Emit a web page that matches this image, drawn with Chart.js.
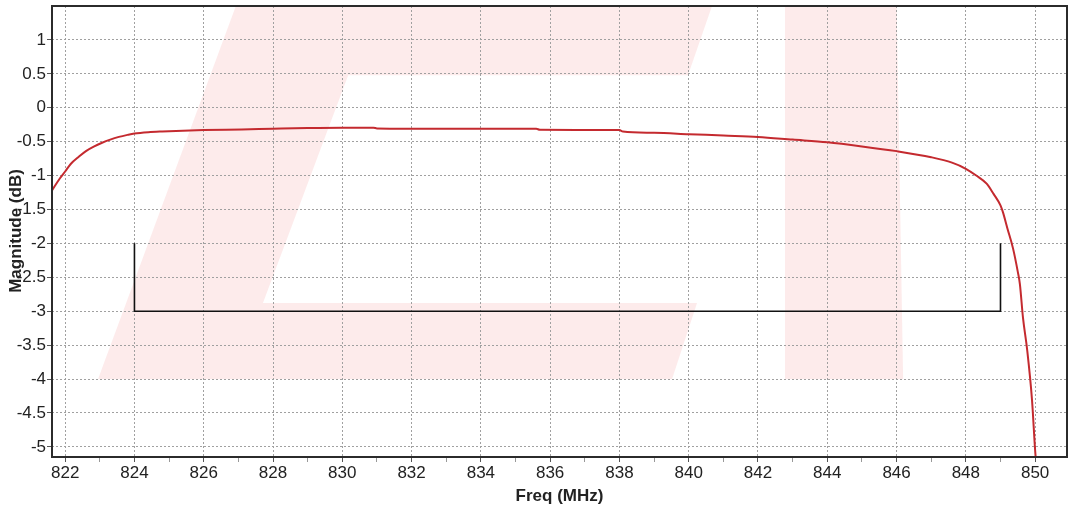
<!DOCTYPE html>
<html>
<head>
<meta charset="utf-8">
<script src="https://cdn.jsdelivr.net/npm/chart.js@4/dist/chart.umd.min.js"></script>
<style>
    body { margin: 0; background: #fff; }
    canvas { display: block; }
</style>
</head>
<body>
<canvas id="magChart" width="1069" height="508"></canvas>
<script>
// Đáp ứng biên độ của bộ lọc
const freqMHz = [821.62, 821.85, 822.0, 822.16, 822.4, 822.6, 822.84, 823.05, 823.3, 823.55, 823.8, 824.0,
    824.4, 824.8, 825.4, 826.0, 827.1, 828.0, 829.0, 830.0, 830.9, 831.0, 833.0, 835.6, 835.7, 838.0,
    838.1, 839.0, 840.0, 841.0, 842.0, 843.0, 844.0, 845.0, 846.0, 847.0, 847.6, 848.0, 848.3, 848.6,
    848.8, 849.0, 849.07, 849.2, 849.36, 849.5, 849.56, 849.65, 849.77, 849.91, 850.0, 850.04];
const magnitudeDb = [-1.22, -1.04, -0.94, -0.83, -0.72, -0.64, -0.57, -0.52, -0.47, -0.43, -0.40, -0.38,
    -0.36, -0.35, -0.34, -0.33, -0.32, -0.31, -0.30, -0.295, -0.295, -0.305, -0.31, -0.31, -0.325, -0.33,
    -0.35, -0.37, -0.39, -0.41, -0.43, -0.47, -0.51, -0.57, -0.64, -0.73, -0.81, -0.90, -1.00, -1.12,
    -1.27, -1.44, -1.54, -1.78, -2.07, -2.42, -2.60, -3.10, -3.57, -4.31, -5.05, -5.30];

// Mặt nạ (mask) -3 dB
const maskFreq = [824, 824, 849, 849];
const maskDb = [-2, -3, -3, -2];

// Nhãn trục
const xTicks = [822, 824, 826, 828, 830, 832, 834, 836, 838, 840, 842, 844, 846, 848, 850];
const xMinorTicks = [823, 825, 827, 829, 831, 833, 835, 837, 839, 841, 843, 845, 847, 849];
const yTicks = [-5, -4.5, -4, -3.5, -3, -2.5, -2, -1.5, -1, -0.5, 0, 0.5, 1];

// Logo mờ phía sau (toạ độ theo đơn vị dữ liệu)
const logoShapes = [
    [[822.95, -4.0], [827.0, 1.6], [840.74, 1.6], [839.98, 0.48], [830.17, 0.48], [827.71, -2.88], [840.24, -2.88], [839.52, -4.0]],
    [[842.78, 1.6], [846.0, 1.6], [846.19, -4.0], [842.78, -4.0]]
];

const FONT = "'Liberation Sans', Arial, sans-serif";

const backgroundPlugin = {
    id: 'backgroundLogo',
    beforeDraw(chart) {
        const ctx = chart.ctx;
        const area = chart.chartArea;
        const sx = chart.scales.x, sy = chart.scales.y;
        ctx.save();
        ctx.fillStyle = '#fff';
        ctx.fillRect(0, 0, chart.width, chart.height);
        ctx.beginPath();
        ctx.rect(area.left, area.top, area.right - area.left, area.bottom - area.top);
        ctx.clip();
        ctx.fillStyle = 'rgba(236, 70, 70, 0.11)';
        logoShapes.forEach(function(shape) {
            ctx.beginPath();
            shape.forEach(function(p, i) {
                const px = sx.getPixelForValue(p[0]);
                const py = sy.getPixelForValue(p[1]);
                i === 0 ? ctx.moveTo(px, py) : ctx.lineTo(px, py);
            });
            ctx.closePath();
            ctx.fill();
        });
        ctx.restore();
    }
};

const framePlugin = {
    id: 'frameTitles',
    afterDraw(chart) {
        const ctx = chart.ctx;
        const a = chart.chartArea;
        ctx.save();
        ctx.strokeStyle = '#2b2b2b';
        ctx.lineWidth = 2;
        ctx.strokeRect(a.left, a.top, a.right - a.left, a.bottom - a.top);

        ctx.fillStyle = '#222';
        ctx.font = 'bold 17px ' + FONT;
        ctx.textAlign = 'center';
        ctx.textBaseline = 'middle';
        ctx.fillText('Freq (MHz)', (a.left + a.right) / 2, 496);

        ctx.translate(16, 231);
        ctx.rotate(-Math.PI / 2);
        ctx.fillText('Magnitude (dB)', 0, 0);
        ctx.restore();
    }
};

const data = {
    datasets: [{
            label: 'Magnitude',
            data: freqMHz.map(function(f, i) { return {x: f, y: magnitudeDb[i]}; }),
            borderColor: '#c42a2f',
            borderWidth: 2,
            pointRadius: 0,
            cubicInterpolationMode: 'monotone'
        }, {
            label: 'Mask',
            data: maskFreq.map(function(f, i) { return {x: f, y: maskDb[i]}; }),
            borderColor: '#111',
            borderWidth: 1.6,
            pointRadius: 0,
            tension: 0
        }]
};

const config = {
    type: 'line',
    data: data,
    options: {
        responsive: false,
        animation: false,
        devicePixelRatio: 1,
        layout: { padding: { top: 6, right: 2, left: 0, bottom: 0 } },
        plugins: { legend: { display: false }, tooltip: { enabled: false } },
        scales: {
            x: {
                type: 'linear',
                min: 821.62,
                max: 850.92,
                afterBuildTicks: function(s) {
                    s.ticks = xTicks.concat(xMinorTicks).sort(function(a, b) { return a - b; })
                        .map(function(v) { return {value: v}; });
                },
                afterFit: function(s) {
                    s.height = 51;
                    s.paddingLeft = 0;
                    s.paddingRight = 0;
                },
                ticks: {
                    autoSkip: false,
                    maxRotation: 0,
                    padding: 1,
                    color: '#222',
                    font: { family: FONT, size: 17 },
                    callback: function(v) { return v % 2 === 0 ? String(v) : ''; }
                },
                grid: {
                    color: function(c) { return c.tick && c.tick.value % 2 === 0 ? '#a0a0a0' : 'transparent'; },
                    tickColor: function(c) { return c.tick && c.tick.value % 2 === 0 ? '#555' : '#999'; },
                    tickLength: 5,
                    lineWidth: 1
                },
                border: { display: false, dash: [2, 2] }
            },
            y: {
                type: 'linear',
                min: -5.15,
                max: 1.5,
                afterBuildTicks: function(s) {
                    s.ticks = yTicks.map(function(v) { return {value: v}; });
                },
                afterFit: function(s) {
                    s.width = 52;
                    s.paddingTop = 0;
                    s.paddingBottom = 0;
                },
                ticks: {
                    autoSkip: false,
                    padding: 1,
                    color: '#222',
                    font: { family: FONT, size: 17 },
                    callback: function(v) { return String(v); }
                },
                grid: {
                    color: '#a0a0a0',
                    tickColor: '#555',
                    tickLength: 5,
                    lineWidth: 1
                },
                border: { display: false, dash: [2, 2] }
            }
        }
    },
    plugins: [backgroundPlugin, framePlugin]
};

let context = document.getElementById('magChart').getContext('2d');
new Chart(context, config);
</script>
</body>
</html>
